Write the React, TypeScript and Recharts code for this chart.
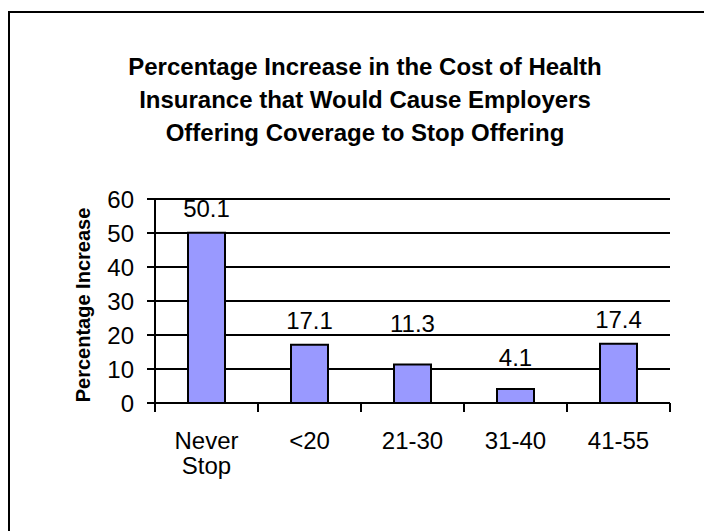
import { BarChart, Bar, XAxis, YAxis, CartesianGrid, LabelList } from "recharts";

const categories = ["Never Stop", "<20", "21-30", "31-40", "41-55"];
const percentIncrease = [50.1, 17.1, 11.3, 4.1, 17.4];
const yTicks = [0, 10, 20, 30, 40, 50, 60];
const titleLines = [
  "Percentage Increase in the Cost of Health",
  "Insurance that Would Cause Employers",
  "Offering Coverage to Stop Offering",
];
const yLabel = "Percentage Increase";

const data = categories.map((name, i) => ({ name, value: percentIncrease[i] }));

const FONT = "'Liberation Sans', Arial, sans-serif";
const CHART_W = 704;
const CHART_H = 523;
const MARGIN = { top: 191, right: 42, bottom: 68, left: 87 };
const Y_AXIS_W = 60;
const X_AXIS_H = 60;
const PLOT_W = CHART_W - MARGIN.left - MARGIN.right - Y_AXIS_W;
const PLOT_H = CHART_H - MARGIN.top - MARGIN.bottom - X_AXIS_H;
const BAND = PLOT_W / categories.length;
const Y_MAX = yTicks[yTicks.length - 1];

// Excel-style category axis: tick marks sit between categories, labels wrap
function CategoryTick(props: any) {
  const { x, y, payload, index } = props;
  const words = String(payload.value).split(" ");
  const last = index === categories.length - 1;
  return (
    <g>
      <line x1={x - BAND / 2} x2={x - BAND / 2} y1={y} y2={y + 9} stroke="#000" strokeWidth={2} />
      {last && (
        <line x1={x + BAND / 2} x2={x + BAND / 2} y1={y} y2={y + 9} stroke="#000" strokeWidth={2} />
      )}
      <text x={x} y={y + 46} textAnchor="middle" fill="#000" fontSize={24} fontFamily={FONT}>
        {words.map((w, i) => (
          <tspan key={i} x={x} dy={i === 0 ? 0 : 25}>
            {w}
          </tspan>
        ))}
      </text>
    </g>
  );
}

// value label above the bar, nudged up so it never sits on a gridline
function ValueLabel(props: any) {
  const vb = props.viewBox ?? props;
  const cx = vb.x + vb.width / 2;
  let cy = vb.y - 24;
  const gridYs = yTicks.map((t) => MARGIN.top + PLOT_H * (1 - t / Y_MAX));
  for (const g of gridYs) {
    if (cy - 9 < g && cy + 9 > g) cy = g - 12;
  }
  return (
    <text x={cx} y={cy + 8.5} textAnchor="middle" fill="#000" fontSize={24} fontFamily={FONT}>
      {props.value}
    </text>
  );
}

export default function App() {
  return (
    <div style={{ position: "relative", width: CHART_W, height: CHART_H, fontFamily: FONT }}>
      <div
        style={{
          position: "absolute",
          left: 0,
          top: 3,
          right: 0,
          bottom: 0,
          borderLeft: "2px solid #000",
          borderTop: "2px solid #000",
        }}
      />
      <div
        style={{
          position: "absolute",
          left: 50,
          width: 614,
          top: 42,
          textAlign: "center",
          fontWeight: "bold",
          fontSize: 24,
          lineHeight: "33px",
          color: "#000",
        }}
      >
        {titleLines.map((t) => (
          <div key={t}>{t}</div>
        ))}
      </div>
      <div
        style={{
          position: "absolute",
          left: 75 - 150,
          top: 297 - 12,
          width: 300,
          height: 24,
          lineHeight: "24px",
          textAlign: "center",
          fontWeight: "bold",
          fontSize: 20,
          color: "#000",
          transform: "rotate(-90deg)",
        }}
      >
        {yLabel}
      </div>
      <div style={{ position: "absolute", left: 0, top: 0 }}>
        <BarChart width={CHART_W} height={CHART_H} data={data} margin={MARGIN}>
          <CartesianGrid vertical={false} stroke="#000" strokeWidth={2} yAxisId="l" />
          <XAxis
            dataKey="name"
            height={X_AXIS_H}
            interval={0}
            tick={<CategoryTick />}
            tickLine={false}
            tickSize={0}
            tickMargin={0}
            axisLine={{ stroke: "#000", strokeWidth: 2 }}
          />
          <YAxis
            yAxisId="l"
            width={Y_AXIS_W}
            domain={[0, Y_MAX]}
            ticks={yTicks}
            interval={0}
            tick={{ fill: "#000", fontSize: 24, fontFamily: FONT }}
            tickSize={8}
            tickMargin={13}
            tickLine={{ stroke: "#000", strokeWidth: 2 }}
            axisLine={{ stroke: "#000", strokeWidth: 2 }}
          />
          <YAxis
            yAxisId="r"
            orientation="right"
            width={0}
            domain={[0, Y_MAX]}
            tick={false}
            tickLine={false}
            axisLine={{ stroke: "#000", strokeWidth: 2 }}
          />
          <Bar
            yAxisId="l"
            dataKey="value"
            fill="#9999FF"
            stroke="#000"
            strokeWidth={2}
            barSize={37}
            isAnimationActive={false}
          >
            <LabelList dataKey="value" content={<ValueLabel />} />
          </Bar>
        </BarChart>
      </div>
    </div>
  );
}
